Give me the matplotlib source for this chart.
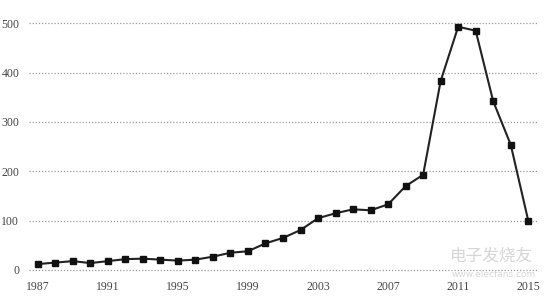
import matplotlib
matplotlib.use("Agg")
import matplotlib.pyplot as plt

years = list(range(1987, 2016))
values = [12, 15, 18, 14, 18, 22, 23, 21, 19, 21, 27, 35, 38, 54, 65, 81,
          105, 115, 123, 121, 133, 170, 193, 383, 493, 485, 342, 254, 100]
xticks = [1987, 1991, 1995, 1999, 2003, 2007, 2011, 2015]
yticks = [0, 100, 200, 300, 400, 500]

fig = plt.figure(figsize=(5.52, 2.96), dpi=100)
ax = fig.add_axes([29/552, 26/296, 508/552, 246.7/296])
ax.set_xlim(1986.5, 2015.5)
ax.set_ylim(0, 500)

for y in yticks:
    ax.axhline(y, color="#9a9a9a", lw=0.9, ls=(0, (1, 1.5)), zorder=1, clip_on=False)

ax.plot(years, values, color="#222222", lw=1.5, marker="s", ms=3.8,
        mfc="#111111", mec="#111111", zorder=3, clip_on=False)

for s in ax.spines.values():
    s.set_visible(False)
ax.set_xticks(xticks)
ax.set_yticks(yticks)
ax.tick_params(length=0, labelsize=8.5, labelcolor="#444444")
ax.tick_params(axis="x", pad=8)
ax.tick_params(axis="y", pad=7)
for lab in ax.get_xticklabels() + ax.get_yticklabels():
    lab.set_family("Liberation Serif")

# watermark
fig.text(0.89, 0.135, "电子发烧友", family=["Noto Sans CJK SC", "DejaVu Sans"],
         fontsize=12, color="#cccccc", ha="center", va="center", alpha=0.8)
fig.text(0.895, 0.072, "www.elecfans.com", fontsize=6.5, color="#cccccc",
         ha="center", va="center", alpha=0.8)

fig.savefig("out.png", dpi=100)
